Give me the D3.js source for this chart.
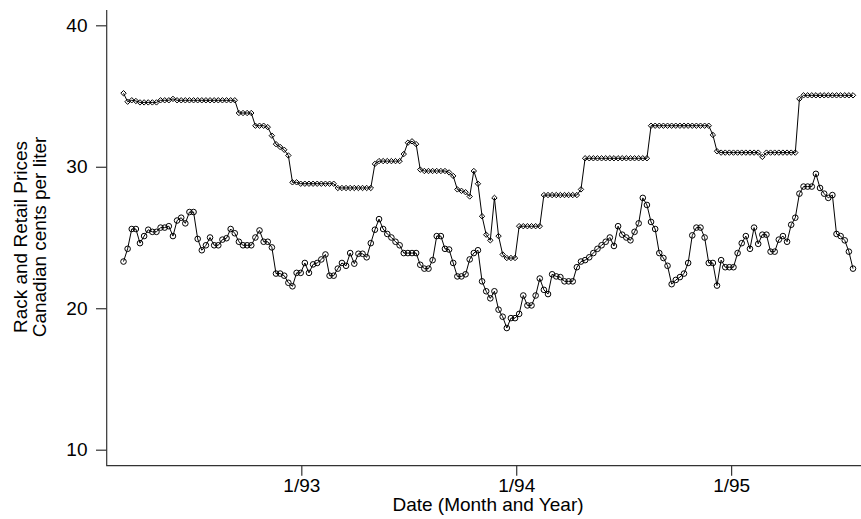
<!DOCTYPE html>
<html>
<head>
<meta charset="utf-8">
<script src="https://cdn.jsdelivr.net/npm/d3@7"></script>
<style>
  body { margin: 0; background: #fff; }
  #graphicContainer svg { display: block; font-family: "Liberation Sans", Arial, sans-serif; }
</style>
</head>
<body>
<div id="graphicContainer"></div>
<script>
// weekly prices, first observation in early March 1992
var firstWeek = "1992-03-05"
var weekStep = 7

// retail price (diamonds), cents per liter
var retail = [
  35.2, 34.6, 34.7, 34.65, 34.55, 34.55, 34.55, 34.55, 34.55, 34.7,
  34.7, 34.7, 34.8, 34.7, 34.7, 34.7, 34.7, 34.7, 34.7, 34.7,
  34.7, 34.7, 34.7, 34.7, 34.7, 34.7, 34.7, 34.7, 33.8, 33.8,
  33.8, 33.8, 32.9, 32.9, 32.9, 32.8, 32.2, 31.6, 31.4, 31.2,
  30.8, 28.9, 28.9, 28.8, 28.8, 28.8, 28.8, 28.8, 28.8, 28.8,
  28.8, 28.8, 28.5, 28.5, 28.5, 28.5, 28.5, 28.5, 28.5, 28.5,
  28.5, 30.2, 30.4, 30.4, 30.4, 30.4, 30.4, 30.4, 30.9, 31.7,
  31.8, 31.6, 29.8, 29.7, 29.7, 29.7, 29.7, 29.7, 29.7, 29.6,
  29.35, 28.4, 28.3, 28.2, 27.9, 29.7, 28.8, 26.5, 25.2, 24.8,
  27.8, 25.1, 23.8, 23.55, 23.55, 23.55, 25.8, 25.8, 25.8, 25.8,
  25.8, 25.8, 28.0, 28.0, 28.0, 28.0, 28.0, 28.0, 28.0, 28.0,
  28.0, 28.4, 30.6, 30.6, 30.6, 30.6, 30.6, 30.6, 30.6, 30.6,
  30.6, 30.6, 30.6, 30.6, 30.6, 30.6, 30.6, 30.6, 32.9, 32.9,
  32.9, 32.9, 32.9, 32.9, 32.9, 32.9, 32.9, 32.9, 32.9, 32.9,
  32.9, 32.9, 32.9, 32.25, 31.1, 31.0, 31.0, 31.0, 31.0, 31.0,
  31.0, 31.0, 31.0, 31.0, 31.0, 30.7, 31.0, 31.0, 31.0, 31.0,
  31.0, 31.0, 31.0, 31.0, 34.8, 35.05, 35.05, 35.05, 35.05, 35.05,
  35.05, 35.05, 35.05, 35.05, 35.05, 35.05, 35.05, 35.05
]

// rack price (circles), cents per liter
var rack = [
  23.3, 24.2, 25.6, 25.6, 24.6, 25.1, 25.55, 25.4, 25.4, 25.7,
  25.7, 25.8, 25.1, 26.2, 26.4, 26.0, 26.8, 26.8, 24.9, 24.1,
  24.45, 25.0, 24.45, 24.45, 24.85, 24.95, 25.6, 25.3, 24.7, 24.45,
  24.45, 24.45, 25.0, 25.5, 24.7, 24.7, 24.3, 22.45, 22.45, 22.3,
  21.8, 21.55, 22.5, 22.5, 23.2, 22.5, 23.1, 23.2, 23.45, 23.8,
  22.3, 22.3, 22.8, 23.2, 23.0, 23.9, 23.15, 23.85, 23.85, 23.6,
  24.6, 25.55, 26.3, 25.6, 25.25, 25.0, 24.7, 24.45, 23.9, 23.9,
  23.9, 23.9, 23.07, 22.8, 22.8, 23.4, 25.1, 25.1, 24.2, 24.15,
  23.2, 22.25, 22.25, 22.4, 23.45, 23.9, 24.1, 21.9, 21.2, 20.7,
  21.2, 19.9, 19.4, 18.6, 19.3, 19.3, 19.6, 20.9, 20.2, 20.2,
  20.9, 22.1, 21.3, 21.0, 22.4, 22.25, 22.2, 21.9, 21.9, 21.9,
  22.9, 23.3, 23.4, 23.6, 23.9, 24.2, 24.45, 24.7, 25.0, 24.4,
  25.8, 25.2, 25.0, 24.8, 25.4, 26.0, 27.8, 27.3, 26.1, 25.6,
  23.9, 23.55, 23.0, 21.7, 22.0, 22.2, 22.45, 23.2, 25.15, 25.7,
  25.7, 25.0, 23.2, 23.2, 21.6, 23.4, 22.9, 22.9, 22.9, 23.9,
  24.6, 25.1, 24.2, 25.7, 24.55, 25.2, 25.2, 24.0, 24.0, 24.85,
  25.1, 24.7, 25.9, 26.4, 28.1, 28.6, 28.6, 28.6, 29.5, 28.5,
  28.1, 27.8, 28.0, 25.25, 25.1, 24.8, 24.0, 22.8
]

var tickDates = ["1993-01-01", "1994-01-01", "1995-01-01"]
var tickLabels = ["1/93", "1/94", "1/95"]
var yTicks = [10, 20, 30, 40]
var yTitle = ["Rack and Retail Prices", "Canadian cents per liter"]
var xTitle = "Date (Month and Year)"

var width = 861
var height = 519
var fontSize = 19
var ink = "#000"

var parseDate = d3.timeParse("%Y-%m-%d")
var start = parseDate(firstWeek)
var dates = retail.map(function (d, i) {
  return d3.timeDay.offset(start, weekStep * i)
})

var svg = d3.select("#graphicContainer").append("svg")
  .attr("width", width)
  .attr("height", height)

var plotLeft = 106.7
var plotBottom = 465.7
var plotTop = 10

var x = d3.scaleTime()
  .domain([dates[0], dates[dates.length - 1]])
  .range([123.5, 853])

var y = d3.scaleLinear()
  .domain([10, 40])
  .range([449.7, 25.3])

// axes
var xAxis = d3.axisBottom(x)
  .tickValues(tickDates.map(parseDate))
  .tickFormat(function (d, i) { return tickLabels[i] })
  .tickSize(10)
  .tickPadding(2.5)

var yAxis = d3.axisLeft(y)
  .tickValues(yTicks)
  .tickSize(10.7)
  .tickPadding(8.5)

var gx = svg.append("g")
  .attr("class", "x")
  .attr("transform", "translate(0," + plotBottom + ")")
  .call(xAxis)

var gy = svg.append("g")
  .attr("class", "y")
  .attr("transform", "translate(" + plotLeft + ",0)")
  .call(yAxis)

svg.selectAll(".x .domain, .y .domain").remove()
svg.selectAll(".x .tick line, .y .tick line")
  .attr("stroke", "#333")
  .attr("stroke-width", 1.2)
svg.selectAll(".x text, .y text")
  .attr("font-family", "Liberation Sans, Arial, sans-serif")
  .attr("font-size", fontSize)
  .attr("fill", ink)
gx.attr("font-size", null).attr("font-family", null)
gy.attr("font-size", null).attr("font-family", null)

// L-shaped frame
svg.append("path")
  .attr("d", "M" + plotLeft + "," + plotTop + "V" + plotBottom + "H" + width)
  .attr("fill", "none")
  .attr("stroke", "#333")
  .attr("stroke-width", 1.2)

// axis titles
svg.append("text")
  .attr("x", 488)
  .attr("y", 511)
  .attr("text-anchor", "middle")
  .attr("font-size", fontSize)
  .attr("fill", ink)
  .text(xTitle)

svg.selectAll(".ytitle")
  .data(yTitle)
  .enter().append("text")
  .attr("class", "ytitle")
  .attr("transform", function (d, i) {
    return "translate(" + (27 + i * 19) + ",237) rotate(-90)"
  })
  .attr("text-anchor", "middle")
  .attr("font-size", fontSize)
  .attr("fill", ink)
  .text(function (d) { return d })

// series
var line = d3.line()
  .x(function (d, i) { return x(dates[i]) })
  .y(function (d) { return y(d) })

svg.append("path")
  .datum(retail)
  .attr("d", line)
  .attr("fill", "none")
  .attr("stroke", ink)
  .attr("stroke-width", 1)

svg.append("path")
  .datum(rack)
  .attr("d", line)
  .attr("fill", "none")
  .attr("stroke", ink)
  .attr("stroke-width", 1)

var h = 2.7
svg.selectAll(".diamond")
  .data(retail)
  .enter().append("path")
  .attr("class", "diamond")
  .attr("transform", function (d, i) {
    return "translate(" + x(dates[i]) + "," + y(d) + ")"
  })
  .attr("d", "M0," + (-h) + "L" + h + ",0L0," + h + "L" + (-h) + ",0Z")
  .attr("fill", "none")
  .attr("stroke", ink)
  .attr("stroke-width", 1)

svg.selectAll(".circle")
  .data(rack)
  .enter().append("circle")
  .attr("class", "circle")
  .attr("cx", function (d, i) { return x(dates[i]) })
  .attr("cy", function (d) { return y(d) })
  .attr("r", 2.8)
  .attr("fill", "none")
  .attr("stroke", ink)
  .attr("stroke-width", 1)
</script>
</body>
</html>
